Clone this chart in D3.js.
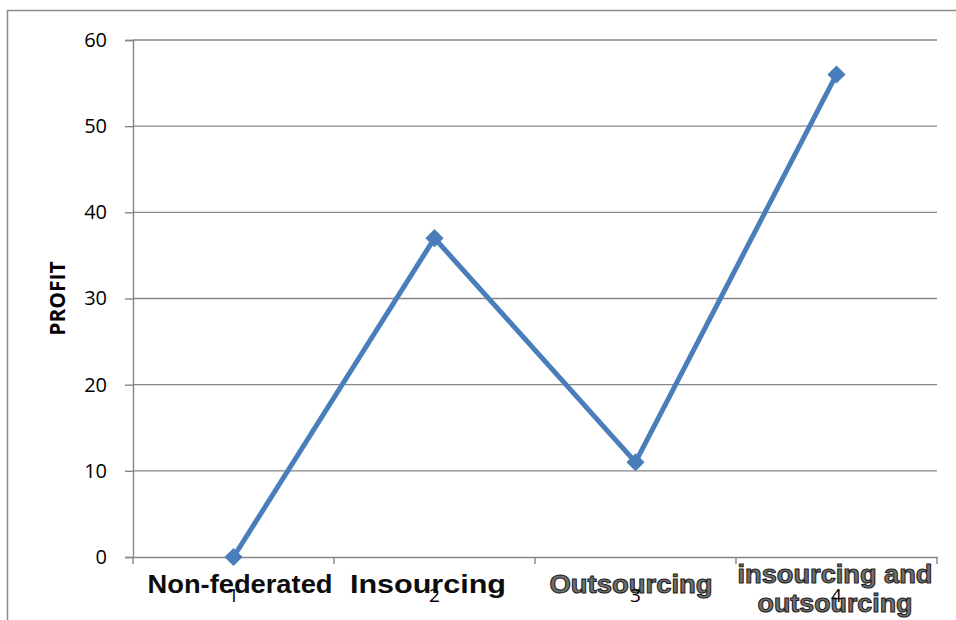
<!DOCTYPE html>
<html>
<head>
<meta charset="utf-8">
<script src="https://cdn.jsdelivr.net/npm/d3@7"></script>
<style>
  html, body { margin: 0; padding: 0; background: #fff; }
  svg { display: block; }
</style>
</head>
<body>
<svg id="chart" width="956" height="620"></svg>
<script>
const categories = ["1", "2", "3", "4"];
const profit = [0, 37, 11, 56];
const yTicks = [0, 10, 20, 30, 40, 50, 60];
const nameLabels = [["Non-federated"], ["Insourcing"], ["Outsourcing"], ["insourcing and", "outsourcing"]];
const yTitle = "PROFIT";

const svg = d3.select("#chart");
const margin = { left: 133, right: 937, top: 40, bottom: 557 };

// outer frame
svg.append("rect")
  .attr("x", 7.5).attr("y", 10.5)
  .attr("width", 1000).attr("height", 700)
  .attr("fill", "none").attr("stroke", "#8c8c8c").attr("stroke-width", 1.5);

const x = d3.scaleBand().domain(categories).range([margin.left, margin.right]).padding(0);
const y = d3.scaleLinear().domain([0, 60]).range([margin.bottom, margin.top]);
const cx = c => x(c) + x.bandwidth() / 2;

// gridlines
svg.append("g").selectAll("line").data(yTicks.filter(d => d > 0)).join("line")
  .attr("x1", margin.left).attr("x2", margin.right)
  .attr("y1", d => y(d)).attr("y2", d => y(d))
  .attr("stroke", "#868686").attr("stroke-width", 1.4);

// y axis
const yAxis = svg.append("g").attr("transform", `translate(${margin.left},0)`)
  .call(d3.axisLeft(y).tickValues(yTicks).tickSize(8).tickPadding(18));
yAxis.select(".domain").attr("stroke", "#868686").attr("stroke-width", 1.4);
yAxis.selectAll(".tick line").attr("stroke", "#868686").attr("stroke-width", 1.4);
yAxis.selectAll(".tick text").attr("font-family", "'Open Sans', 'Noto Sans', sans-serif")
  .attr("font-size", 20).attr("fill", "#000");

// x axis line and boundary ticks
const xAxis = svg.append("g").attr("transform", `translate(0,${margin.bottom})`)
  .call(d3.axisBottom(x).tickSize(0).tickFormat(""));
xAxis.select(".domain").attr("stroke", "#868686").attr("stroke-width", 1.4);
const bounds = categories.map(c => x(c)).concat([x(categories[categories.length - 1]) + x.bandwidth()]);
svg.append("g").selectAll("line").data(bounds).join("line")
  .attr("x1", d => d).attr("x2", d => d)
  .attr("y1", margin.bottom).attr("y2", margin.bottom + 7)
  .attr("stroke", "#868686").attr("stroke-width", 1.4);

// y title
svg.append("text")
  .attr("transform", `translate(65,${(margin.top + margin.bottom) / 2}) rotate(-90)`)
  .attr("text-anchor", "middle")
  .attr("font-family", "'Open Sans', 'Noto Sans', sans-serif")
  .attr("font-weight", "bold").attr("font-size", 21)
  .text(yTitle);

// line
const line = d3.line().x((d, i) => cx(categories[i])).y(d => y(d));
svg.append("path").datum(profit)
  .attr("d", line).attr("fill", "none")
  .attr("stroke", "#4a7ebb").attr("stroke-width", 5).attr("stroke-linejoin", "miter");

svg.append("g").selectAll("path").data(profit).join("path")
  .attr("d", d3.symbol().type(d3.symbolSquare).size(165))
  .attr("transform", (d, i) => `translate(${cx(categories[i])},${y(d)}) rotate(45)`)
  .attr("fill", "#4a7ebb");

// overlaid category names (widths as drawn in the source)
const nameCenters = [240, 428, 631, 835];
const nameWidths = [[185], [156], [163], [195, 155]];
nameLabels.forEach((lines, i) => {
  const base = lines.length > 1 ? 583 : 593;
  lines.forEach((l, j) => {
    const t = svg.append("text")
      .attr("x", nameCenters[i])
      .attr("y", base + j * 29)
      .attr("text-anchor", "middle")
      .attr("font-family", "'Liberation Sans', Arial, sans-serif")
      .attr("font-weight", "bold").attr("font-size", 25)
      .attr("textLength", nameWidths[i][j])
      .attr("lengthAdjust", "spacingAndGlyphs")
      .text(l);
    if (i >= 2) {
      t.attr("fill", "#707070").attr("stroke", "#1e1e1e").attr("stroke-width", 1);
    } else {
      t.attr("fill", "#0d0d0d");
    }
  });
});

// category number labels, drawn on top as in the source
svg.append("g").selectAll("text").data(categories).join("text")
  .attr("x", d => cx(d)).attr("y", 602)
  .attr("text-anchor", "middle")
  .attr("font-family", "'Open Sans', 'Noto Sans', sans-serif")
  .attr("font-size", 19).attr("fill", "#000")
  .text(d => d);
</script>
</body>
</html>
